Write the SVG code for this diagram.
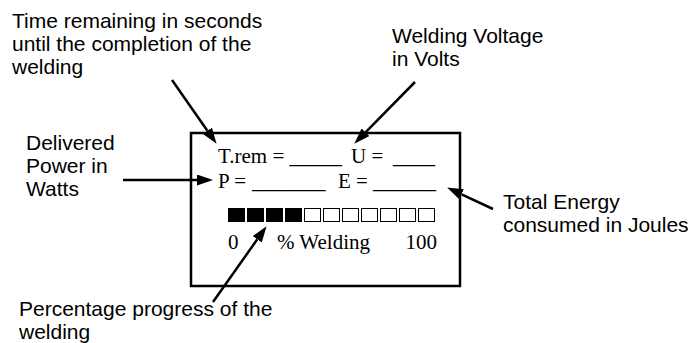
<svg xmlns="http://www.w3.org/2000/svg" width="692" height="343" viewBox="0 0 692 343">
<style>
.lbl{font-family:"Liberation Sans",Arial,sans-serif;font-size:21px;fill:#000}
.scr{font-family:"Liberation Serif","Times New Roman",serif;font-size:21px;fill:#000}
.conn{stroke:#000;stroke-width:2.5;fill:none;marker-end:url(#ah)}
.on{fill:#000}
.off{fill:#fff;stroke:#000;stroke-width:1}
</style>
<defs>
<marker id="ah" markerUnits="userSpaceOnUse" markerWidth="16" markerHeight="11" refX="0" refY="5.5" orient="auto" viewBox="0 0 16 11">
<path d="M0,0 L16,5.5 L0,11 z" fill="#000"/>
</marker>
</defs>
<rect width="692" height="343" fill="#fff"/>
<g id="display">
<rect x="191" y="133" width="269" height="153" fill="#fff" stroke="#000" stroke-width="2.5"/>
<text class="scr" x="218" y="163">T.rem = _____</text>
<text class="scr" x="351" y="163">U =</text>
<text class="scr" x="393" y="163">____</text>
<text class="scr" x="218" y="188">P =</text>
<text class="scr" x="252" y="188">_______</text>
<text class="scr" x="338" y="188">E =</text>
<text class="scr" x="373" y="188">______</text>
<g id="progress-bar">
<rect class="on" x="228" y="208" width="17" height="14"/>
<rect class="on" x="247" y="208" width="17" height="14"/>
<rect class="on" x="266" y="208" width="17" height="14"/>
<rect class="on" x="285" y="208" width="17" height="14"/>
<rect class="off" x="304.5" y="208.5" width="16" height="13"/>
<rect class="off" x="323.5" y="208.5" width="16" height="13"/>
<rect class="off" x="342.5" y="208.5" width="16" height="13"/>
<rect class="off" x="361.5" y="208.5" width="16" height="13"/>
<rect class="off" x="380.5" y="208.5" width="16" height="13"/>
<rect class="off" x="399.5" y="208.5" width="16" height="13"/>
<rect class="off" x="418.5" y="208.5" width="16" height="13"/>
</g>
<text class="scr" x="228" y="249">0</text>
<text class="scr" x="277" y="249">% Welding</text>
<text class="scr" x="437" y="249" text-anchor="end">100</text>
</g>
<g id="label-time">
<text class="lbl" x="12" y="28">Time remaining in seconds</text>
<text class="lbl" x="12" y="51">until the completion of the</text>
<text class="lbl" x="12" y="74">welding</text>
</g>
<g id="label-voltage">
<text class="lbl" x="392" y="43">Welding Voltage</text>
<text class="lbl" x="392" y="66">in Volts</text>
</g>
<g id="label-power">
<text class="lbl" x="26" y="150">Delivered</text>
<text class="lbl" x="26" y="173">Power in</text>
<text class="lbl" x="26" y="196">Watts</text>
</g>
<g id="label-energy">
<text class="lbl" x="503" y="209">Total Energy</text>
<text class="lbl" x="503" y="232">consumed in Joules</text>
</g>
<g id="label-percentage">
<text class="lbl" x="19" y="316">Percentage progress of the</text>
<text class="lbl" x="19" y="339">welding</text>
</g>
<g id="connectors">
<line class="conn" x1="172" y1="80" x2="207.4" y2="130.7"/>
<line class="conn" x1="415" y1="82" x2="365.5" y2="132.3"/>
<line class="conn" x1="123" y1="180" x2="197" y2="180"/>
<line class="conn" x1="493" y1="209" x2="461.6" y2="194.3"/>
<line class="conn" x1="213" y1="302" x2="257.3" y2="239.3"/>
</g>
</svg>
